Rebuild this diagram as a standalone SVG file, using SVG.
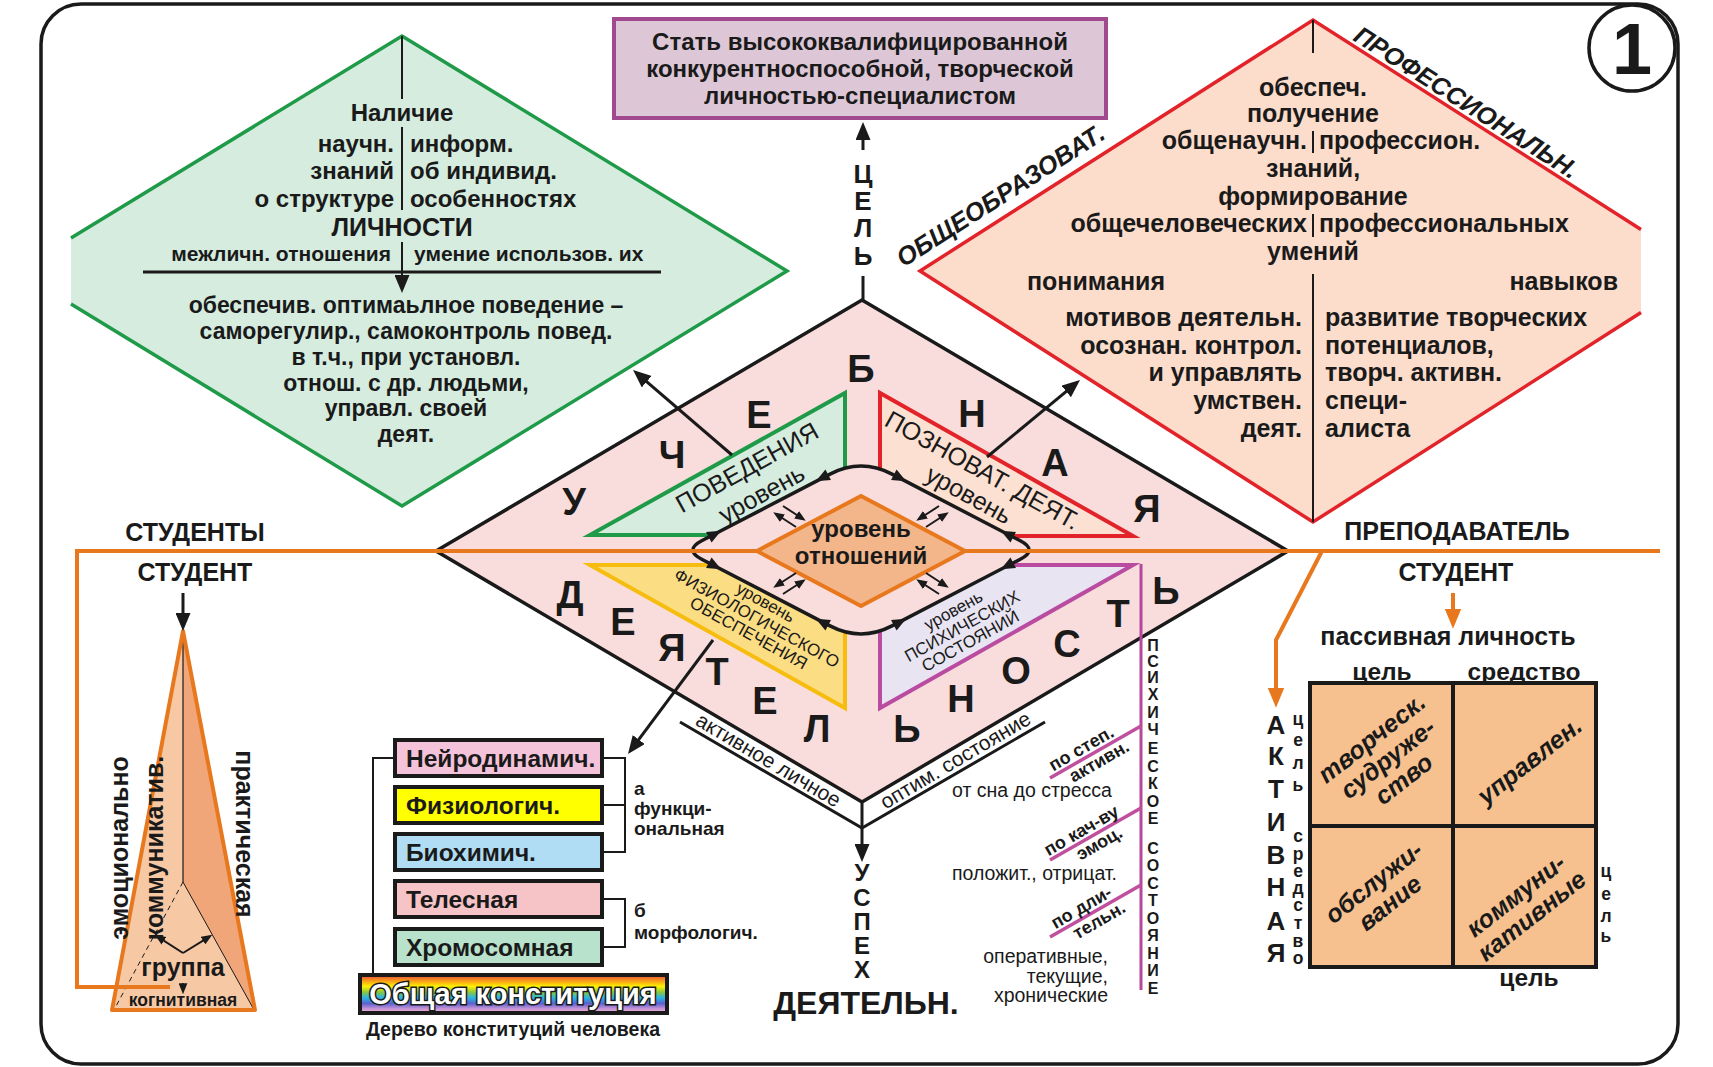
<svg xmlns="http://www.w3.org/2000/svg" width="1713" height="1067" viewBox="0 0 1713 1067">
<defs>
<style>
text{font-family:'Liberation Sans',Arial,sans-serif;fill:#1a1a1a}
.b{font-weight:bold}
.i{font-style:italic}
.m{text-anchor:middle}
.e{text-anchor:end}
.ln{stroke:#1a1a1a;stroke-width:3;fill:none}
.th{stroke:#1a1a1a;stroke-width:2;fill:none}
.or{stroke:#e8781e;stroke-width:4;fill:none}
.mg{stroke:#c0509e;stroke-width:3.5;fill:none}
.box{stroke:#1a1a1a;stroke-width:4}
.big{font-size:38px;font-weight:bold;text-anchor:middle}
.lh{fill:#1a1a1a}
</style>
<marker id="ah" viewBox="0 0 12 10" refX="8" refY="5" markerWidth="18" markerHeight="15" markerUnits="userSpaceOnUse" orient="auto"><path d="M0,0 L12,5 L0,10 z" fill="#1a1a1a"/></marker>
<marker id="aho" viewBox="0 0 12 10" refX="8" refY="5" markerWidth="20" markerHeight="17" markerUnits="userSpaceOnUse" orient="auto"><path d="M0,0 L12,5 L0,10 z" fill="#e8781e"/></marker>
<marker id="ahs" viewBox="0 0 10 8" refX="7" refY="4" markerWidth="11" markerHeight="9" markerUnits="userSpaceOnUse" orient="auto"><path d="M0,0 L10,4 L0,8 z" fill="#1a1a1a"/></marker>
<linearGradient id="rainbow" x1="0" y1="0" x2="0" y2="1">
<stop offset="0" stop-color="#e8463a"/><stop offset="0.14" stop-color="#f7941d"/><stop offset="0.3" stop-color="#fff200"/><stop offset="0.45" stop-color="#8dc63f"/><stop offset="0.6" stop-color="#27b6e8"/><stop offset="0.75" stop-color="#5b62d0"/><stop offset="0.88" stop-color="#c290d4"/><stop offset="1" stop-color="#f6bcd4"/>
</linearGradient>
<path id="lhd" d="M7,0 L-7,-6 L-7,6 Z"/>
</defs>

<rect x="41" y="4" width="1637" height="1060" rx="40" fill="#ffffff" stroke="#1a1a1a" stroke-width="3.5"/>

<!-- green diamond -->
<g id="node-personality">
<polygon points="402,36 787,271 402,506 71,304 71,238" fill="#d5ecdf"/>
<polyline points="71,238 402,36 787,271 402,506 71,304" fill="none" stroke="#1f9a48" stroke-width="3.5"/>
<line x1="402" y1="36" x2="402" y2="99" class="th"/>
<line x1="402" y1="127" x2="402" y2="210" class="th"/>
<line x1="402" y1="242" x2="402" y2="287" class="th" marker-end="url(#ah)"/>
<line x1="143" y1="272" x2="661" y2="272" class="ln"/>
<g class="b" font-size="24">
<text x="402" y="121" class="m">Наличие</text>
<text x="394" y="152" class="e">научн.</text>
<text x="410" y="152">информ.</text>
<text x="394" y="179" class="e">знаний</text>
<text x="410" y="179">об индивид.</text>
<text x="394" y="207" class="e">о структуре</text>
<text x="410" y="207">особенностях</text>
</g>
<text x="402" y="236" class="b m" font-size="25">ЛИЧНОСТИ</text>
<text x="391" y="261" class="b e" font-size="21">межличн. отношения</text>
<text x="414" y="261" class="b" font-size="21">умение использов. их</text>
<g class="b m" font-size="23">
<text x="406" y="313">обеспечив. оптимаьлное поведение –</text>
<text x="406" y="339">саморегулир., самоконтроль повед.</text>
<text x="406" y="365">в т.ч., при установл.</text>
<text x="406" y="391">отнош. с др. людьми,</text>
<text x="406" y="416">управл. своей</text>
<text x="406" y="442">деят.</text>
</g>
</g>

<!-- red diamond -->
<g id="node-education">
<polygon points="1313,20 1641,229.5 1641,312.5 1313,522 920,271" fill="#fcdccb"/>
<polyline points="1641,229.5 1313,20 920,271 1313,522 1641,312.5" fill="none" stroke="#e2232a" stroke-width="3.5"/>
<line x1="1313" y1="20" x2="1313" y2="53" class="th"/>
<line x1="1313" y1="131" x2="1313" y2="153" class="th"/>
<line x1="1313" y1="214" x2="1313" y2="237" class="th"/>
<line x1="1313" y1="274" x2="1313" y2="522" class="th"/>
<g font-size="25" class="b">
<text x="1313" y="96" class="m">обеспеч.</text>
<text x="1313" y="122" class="m">получение</text>
<text x="1307" y="149" class="e">общенаучн.</text>
<text x="1319" y="149">профессион.</text>
<text x="1313" y="177" class="m">знаний,</text>
<text x="1313" y="205" class="m">формирование</text>
<text x="1307" y="232" class="e">общечеловеческих</text>
<text x="1319" y="232">профессиональных</text>
<text x="1313" y="260" class="m">умений</text>
<text x="1027" y="290">понимания</text>
<text x="1618" y="290" class="e">навыков</text>
<text x="1302" y="326" class="e">мотивов деятельн.</text>
<text x="1302" y="354" class="e">осознан. контрол.</text>
<text x="1302" y="381" class="e">и управлять</text>
<text x="1302" y="409" class="e">умствен.</text>
<text x="1302" y="437" class="e">деят.</text>
<text x="1325" y="326">развитие творческих</text>
<text x="1325" y="354">потенциалов,</text>
<text x="1325" y="381">творч. активн.</text>
<text x="1325" y="409">специ-</text>
<text x="1325" y="437">алиста</text>
</g>
<text transform="translate(1001,196) rotate(-32.6)" y="8" class="b i m" font-size="25.5">ОБЩЕОБРАЗОВАТ.</text>
<text transform="translate(1466,103) rotate(32.6)" y="8" class="b i m" font-size="25">ПРОФЕССИОНАЛЬН.</text>
</g>

<!-- goal box -->
<g id="node-goal">
<rect x="614" y="19" width="492" height="99" fill="#ddc7d6" stroke="#a0498e" stroke-width="4"/>
<g class="b m" font-size="24">
<text x="860" y="50">Стать высококвалифицированной</text>
<text x="860" y="77">конкурентноспособной, творческой</text>
<text x="860" y="104">личностью-специалистом</text>
</g>
</g>

<!-- central diamond: learning activity -->
<g id="node-activity">
<polygon points="862,300 1288,551 862,802 436,551" fill="#f9dcdc" stroke="#1a1a1a" stroke-width="3.5"/>
<polyline points="680,722 862,828 1045,722" class="ln"/>
<polygon points="590,535 845,393 845,535" fill="#d5ecdf" stroke="#1f9a48" stroke-width="4"/>
<polygon points="880,393 880,536 1133,536" fill="#fce0d2" stroke="#e2232a" stroke-width="4"/>
<polygon points="590,565 845,565 845,708" fill="#fbdd84" stroke="#f6bd0f" stroke-width="4"/>
<polygon points="880,565 1133,565 880,708" fill="#e8e4f1" stroke="#b94ca0" stroke-width="4"/>
<path d="M830,474.1 Q861,458 892,474.1 L1020.3,540.8 Q1038,550 1020.3,559.2 L892,625.9 Q861,642 830,625.9 L701.7,559.2 Q684,550 701.7,540.8 Z" fill="#f9dcdc" stroke="#1a1a1a" stroke-width="3.5"/>
</g>

<!-- pyramid -->
<g id="node-group">
<polygon points="183,631 112,1010 255,1010" fill="#f7c8a4"/>
<polygon points="183,631 255,1010 253,1008 183,882" fill="#f0a678"/>
<line x1="183" y1="631" x2="183" y2="882" stroke="#1a1a1a" stroke-width="1.2"/>
<line x1="183" y1="882" x2="115" y2="1008" stroke="#1a1a1a" stroke-width="1" stroke-dasharray="5 4"/>
<line x1="183" y1="882" x2="253" y2="1008" stroke="#1a1a1a" stroke-width="1"/>
<polygon points="183,631 112,1010 255,1010" fill="none" stroke="#e8781e" stroke-width="4" stroke-linejoin="round"/>
</g>

<!-- orange axis -->
<g id="connectors-orange">
<polyline points="1660,551 77,551 77,987 170,987" class="or"/>
<polyline points="1322,551 1276,640 1276,701" class="or" marker-end="url(#aho)"/>
<line x1="1453" y1="593" x2="1453" y2="622" class="or" marker-end="url(#aho)"/>
</g>

<g id="node-relations">
<polygon points="757,551 861,496 965,551 861,606" fill="#f3b68a" stroke="#e8781e" stroke-width="4"/>
<text x="861" y="537" class="b m" font-size="24">уровень</text>
<text x="861" y="564" class="b m" font-size="24">отношений</text>
</g>

<!-- loop arrowheads -->
<g id="loop-heads" class="lh">
<use href="#lhd" transform="translate(822,478) rotate(152.5)"/>
<use href="#lhd" transform="translate(715,534) rotate(-27.5)"/>
<use href="#lhd" transform="translate(900,478) rotate(27.5)"/>
<use href="#lhd" transform="translate(1007,534) rotate(-152.5)"/>
<use href="#lhd" transform="translate(715,566) rotate(27.5)"/>
<use href="#lhd" transform="translate(822,622) rotate(-152.5)"/>
<use href="#lhd" transform="translate(900,622) rotate(-27.5)"/>
<use href="#lhd" transform="translate(1007,566) rotate(152.5)"/>
</g>

<!-- tree of constitutions -->
<g id="node-tree">
<rect x="395" y="740" width="207" height="36" fill="#f5c3d9" class="box"/>
<rect x="395" y="787" width="207" height="36" fill="#ffff00" class="box"/>
<rect x="395" y="834" width="207" height="36" fill="#b0dcf4" class="box"/>
<rect x="395" y="881" width="207" height="36" fill="#f6c4c7" class="box"/>
<rect x="395" y="929" width="207" height="36" fill="#b8e2cb" class="box"/>
<rect x="360" y="975" width="307" height="38" fill="url(#rainbow)" class="box"/>
<polyline points="395,758 373,758 373,975" class="th"/>
<polyline points="603,758 625,758 625,852 603,852" class="th"/>
<line x1="603" y1="805" x2="625" y2="805" class="th"/>
<polyline points="603,899 625,899 625,947 603,947" class="th"/>
<g class="b" font-size="24.5">
<text x="406" y="767">Нейродинамич.</text>
<text x="406" y="814">Физиологич.</text>
<text x="406" y="861">Биохимич.</text>
<text x="406" y="908">Телесная</text>
<text x="406" y="956">Хромосомная</text>
</g>
<text x="513" y="1004" class="b m" font-size="29" style="fill:#ffffff;stroke:#1a1a1a;stroke-width:3;paint-order:stroke">Общая конституция</text>
<text x="513" y="1036" class="b m" font-size="19.5">Дерево конституций человека</text>
<g class="b" font-size="19">
<text x="634" y="795">а</text>
<text x="634" y="815">функци-</text>
<text x="634" y="835">ональная</text>
<text x="634" y="917">б</text>
<text x="634" y="939">морфологич.</text>
</g>
</g>

<!-- matrix -->
<g id="node-matrix">
<rect x="1310" y="683" width="286" height="284" fill="#f6c18f" class="box"/>
<line x1="1453" y1="683" x2="1453" y2="967" class="box"/>
<line x1="1310" y1="826" x2="1596" y2="826" class="box"/>
<g class="b i m" font-size="25">
<g transform="translate(1388,759) rotate(-38)"><text x="0" y="-18">творческ.</text><text x="0" y="8">судруже-</text><text x="0" y="34">ство</text></g>
<g transform="translate(1530,761) rotate(-38)"><text x="0" y="8">управлен.</text></g>
<g transform="translate(1382,893) rotate(-38)"><text x="0" y="-5">обслужи-</text><text x="0" y="21">вание</text></g>
<g transform="translate(1524,906) rotate(-38)"><text x="0" y="-5">коммуни-</text><text x="0" y="21">кативные</text></g>
</g>
<text x="1448" y="645" class="b m" font-size="25">пассивная личность</text>
<text x="1382" y="680" class="b m" font-size="24.5">цель</text>
<text x="1524" y="680" class="b m" font-size="24.5">средство</text>
<text x="1529" y="986" class="b m" font-size="24.5">цель</text>
<g class="b m" font-size="26">
<text x="1276" y="734">А</text><text x="1276" y="765">К</text><text x="1276" y="798">Т</text><text x="1276" y="831">И</text><text x="1276" y="864">В</text><text x="1276" y="896">Н</text><text x="1276" y="930">А</text><text x="1276" y="962">Я</text>
</g>
<g class="b m" font-size="17.5">
<text x="1298" y="725">ц</text><text x="1298" y="746">е</text><text x="1298" y="769">л</text><text x="1298" y="791">ь</text>
<text x="1298" y="842">с</text><text x="1298" y="860">р</text><text x="1298" y="877">е</text><text x="1298" y="894">д</text><text x="1298" y="911">с</text><text x="1298" y="929">т</text><text x="1298" y="947">в</text><text x="1298" y="964">о</text>
<text x="1606" y="877">ц</text><text x="1606" y="900">е</text><text x="1606" y="922">л</text><text x="1606" y="942">ь</text>
</g>
</g>

<!-- psychic states -->
<g id="node-psych">
<line x1="1141" y1="564" x2="1141" y2="990" stroke="#b5479c" stroke-width="3"/>
<line x1="1050" y1="778" x2="1141" y2="726" class="mg"/>
<line x1="1050" y1="860" x2="1141" y2="808" class="mg"/>
<line x1="1050" y1="937" x2="1141" y2="885" class="mg"/>
<g class="b m" font-size="18">
<g transform="translate(1095,752) rotate(-30)"><text x="-10" y="-4">по степ.</text><text x="-1" y="16">активн.</text></g>
<g transform="translate(1095,834) rotate(-30)"><text x="-10" y="-4">по кач-ву</text><text x="-1" y="16">эмоц.</text></g>
<g transform="translate(1095,911) rotate(-30)"><text x="-10" y="-4">по дли-</text><text x="-1" y="16">тельн.</text></g>
</g>
<g font-size="19.5">
<text x="952" y="797">от сна до стресса</text>
<text x="952" y="880">положит., отрицат.</text>
<text x="1108" y="963" class="e">оперативные,</text>
<text x="1108" y="983" class="e">текущие,</text>
<text x="1108" y="1002" class="e">хронические</text>
</g>
<g class="b m" font-size="16">
<text x="1153" y="651">П</text><text x="1153" y="667">С</text><text x="1153" y="683">И</text><text x="1153" y="700">Х</text><text x="1153" y="718">И</text><text x="1153" y="735">Ч</text><text x="1153" y="754">Е</text><text x="1153" y="772">С</text><text x="1153" y="789">К</text><text x="1153" y="807">О</text><text x="1153" y="824">Е</text>
<text x="1153" y="854">С</text><text x="1153" y="871">О</text><text x="1153" y="889">С</text><text x="1153" y="906">Т</text><text x="1153" y="924">О</text><text x="1153" y="941">Я</text><text x="1153" y="959">Н</text><text x="1153" y="976">И</text><text x="1153" y="994">Е</text>
</g>
</g>

<!-- connectors -->
<g id="connectors">
<line x1="863" y1="300" x2="863" y2="276" class="ln"/>
<line x1="863" y1="150" x2="863" y2="128" class="ln" marker-end="url(#ah)"/>
<line x1="732" y1="455" x2="637.6" y2="373.9" class="ln" marker-end="url(#ah)"/>
<line x1="987" y1="457" x2="1075.4" y2="383.8" class="ln" marker-end="url(#ah)"/>
<line x1="713" y1="640" x2="631.6" y2="749.2" class="ln" marker-end="url(#ah)"/>
<line x1="862" y1="802" x2="862" y2="856" class="ln" marker-end="url(#ah)"/>
<line x1="183" y1="593" x2="183" y2="625" class="ln" marker-end="url(#ah)"/>
<line x1="796" y1="527" x2="776" y2="514" class="th" marker-end="url(#ahs)"/>
<line x1="783" y1="506" x2="803" y2="519" class="th" marker-end="url(#ahs)"/>
<line x1="926" y1="527" x2="946" y2="514" class="th" marker-end="url(#ahs)"/>
<line x1="939" y1="506" x2="919" y2="519" class="th" marker-end="url(#ahs)"/>
<line x1="796" y1="573" x2="776" y2="586" class="th" marker-end="url(#ahs)"/>
<line x1="783" y1="594" x2="803" y2="581" class="th" marker-end="url(#ahs)"/>
<line x1="926" y1="573" x2="946" y2="586" class="th" marker-end="url(#ahs)"/>
<line x1="939" y1="594" x2="919" y2="581" class="th" marker-end="url(#ahs)"/>
<line x1="183" y1="953" x2="157.5" y2="936.6" class="th" marker-end="url(#ahs)"/>
<line x1="183" y1="953" x2="209.5" y2="936.6" class="th" marker-end="url(#ahs)"/>
<line x1="183" y1="983" x2="183" y2="991" stroke="#1a1a1a" stroke-width="1.5" marker-end="url(#ahs)"/>
</g>

<!-- diamond labels -->
<g id="labels-activity">
<text x="574" y="515" class="big">У</text>
<text x="672" y="468" class="big">Ч</text>
<text x="759" y="428" class="big">Е</text>
<text x="861" y="382" class="big">Б</text>
<text x="972" y="427" class="big">Н</text>
<text x="1055" y="476" class="big">А</text>
<text x="1147" y="522" class="big">Я</text>
<text x="570" y="608" class="big">Д</text>
<text x="623" y="635" class="big">Е</text>
<text x="672" y="661" class="big">Я</text>
<text x="717" y="685" class="big">Т</text>
<text x="765" y="714" class="big">Е</text>
<text x="817" y="742" class="big">Л</text>
<text x="907" y="742" class="big">Ь</text>
<text x="961" y="712" class="big">Н</text>
<text x="1016" y="684" class="big">О</text>
<text x="1067" y="657" class="big">С</text>
<text x="1118" y="627" class="big">Т</text>
<text x="1166" y="604" class="big">Ь</text>
<g class="m" font-size="25">
<g transform="translate(755,482) rotate(-29)"><text y="-8">ПОВЕДЕНИЯ</text><text y="22">уровень</text></g>
<g transform="translate(975,484) rotate(29)"><text y="-7">ПОЗНОВАТ. ДЕЯТ.</text><text y="21">уровень</text></g>
</g>
<g class="m" font-size="17">
<g transform="translate(757,618) rotate(29)"><text y="-12">уровень</text><text y="6">ФИЗИОЛОГИЧЕСКОГО</text><text y="23">ОБЕСПЕЧЕНИЯ</text></g>
<g transform="translate(962,626) rotate(-29)"><text y="-12">уровень</text><text y="6">ПСИХИЧЕСКИХ</text><text y="23">СОСТОЯНИЙ</text></g>
</g>
<text transform="translate(768,761) rotate(30.6)" y="6" class="m" font-size="21">активное личное</text>
<text transform="translate(956,761) rotate(-30.6)" y="6" class="m" font-size="21">оптим. состояние</text>
<g class="b m" font-size="26">
<text x="863" y="183">Ц</text><text x="863" y="210">Е</text><text x="863" y="237">Л</text><text x="863" y="265">Ь</text>
</g>
<g class="b m" font-size="24">
<text x="862" y="881">У</text><text x="862" y="906">С</text><text x="862" y="930">П</text><text x="862" y="954">Е</text><text x="862" y="978">Х</text>
</g>
<text x="866" y="1014" class="b m" font-size="32">ДЕЯТЕЛЬН.</text>
</g>

<g id="labels-sides">
<text x="195" y="541" class="b m" font-size="25">СТУДЕНТЫ</text>
<text x="195" y="581" class="b m" font-size="25">СТУДЕНТ</text>
<text x="1457" y="540" class="b m" font-size="25">ПРЕПОДАВАТЕЛЬ</text>
<text x="1456" y="581" class="b m" font-size="25">СТУДЕНТ</text>
<text transform="translate(120,848) rotate(-90)" y="8" class="b m" font-size="25">эмоционально</text>
<text transform="translate(155,848) rotate(-90)" y="8" class="b m" font-size="25">коммуникатив.</text>
<text transform="translate(244,834) rotate(90)" y="8" class="b m" font-size="25">практическая</text>
<text x="183" y="976" class="b m" font-size="25">группа</text>
<text x="183" y="1006" class="b m" font-size="17.5">когнитивная</text>
</g>

<g id="node-number">
<circle cx="1632" cy="48" r="43" fill="#ffffff" stroke="#1a1a1a" stroke-width="3.5"/>
<text x="1632" y="74" class="b m" font-size="72">1</text>
</g>
</svg>
